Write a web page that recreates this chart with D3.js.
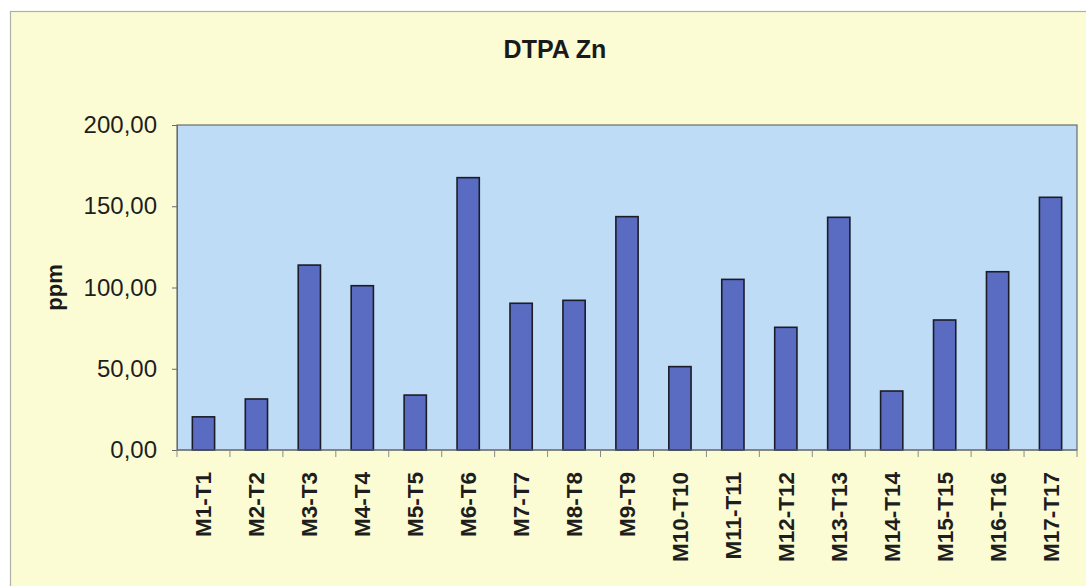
<!DOCTYPE html>
<html>
<head>
<meta charset="utf-8">
<script src="https://cdn.jsdelivr.net/npm/d3@7"></script>
<style>
  html, body { margin: 0; padding: 0; background: #ffffff; }
  svg { display: block; }
  text { font-family: "Liberation Sans", Arial, sans-serif; }
</style>
</head>
<body>
<svg id="chart" width="1086" height="586"></svg>
<script>
const categories = ["M1-T1","M2-T2","M3-T3","M4-T4","M5-T5","M6-T6","M7-T7","M8-T8","M9-T9","M10-T10","M11-T11","M12-T12","M13-T13","M14-T14","M15-T15","M16-T16","M17-T17"];
const values = [20.4, 31.4, 113.8, 101.1, 33.8, 167.6, 90.3, 92.1, 143.6, 51.3, 105.0, 75.5, 143.2, 36.3, 80.0, 109.7, 155.5];
const yTicks = [0, 50, 100, 150, 200];
const title = "DTPA Zn";
const yLabel = "ppm";

const svg = d3.select("#chart");
const W = 1086, H = 586;
const m = { left: 177, right: 1077, top: 125, bottom: 450 };

// chart area background & frame
svg.append("rect").attr("x", 10.5).attr("y", 11.5).attr("width", W).attr("height", H)
  .attr("fill", "#fcfcd4").attr("stroke", "#b0b0a8").attr("stroke-width", 1.2);

const x = d3.scaleBand().domain(categories).range([m.left, m.right]).paddingInner(0.58).paddingOuter(0.29);
const xTick = d3.scaleBand().domain(categories).range([m.left, m.right]);
const y = d3.scaleLinear().domain([0, 200]).range([m.bottom, m.top]);

// plot area
svg.append("rect").attr("x", m.left).attr("y", m.top)
  .attr("width", m.right - m.left).attr("height", m.bottom - m.top)
  .attr("fill", "#bfdcf6").attr("stroke", "#6a6a70").attr("stroke-width", 1.2);

// bars
svg.append("g").selectAll("rect").data(values).join("rect")
  .attr("x", (d, i) => x(categories[i]))
  .attr("y", d => y(d))
  .attr("width", x.bandwidth())
  .attr("height", d => y(0) - y(d))
  .attr("fill", "#5a6cc2")
  .attr("stroke", "#1c1c28")
  .attr("stroke-width", 1.6);

// y axis
const fmt = v => d3.format(".2f")(v).replace(".", ",");
const yAxis = d3.axisLeft(y).tickValues(yTicks).tickFormat(fmt).tickSize(5).tickPadding(15);
const gy = svg.append("g").attr("transform", `translate(${m.left},0)`).call(yAxis);
gy.select(".domain").attr("stroke", "#6a6a70");
gy.selectAll(".tick line").attr("stroke", "#6a6a70");
gy.selectAll("text").attr("font-size", 24).attr("fill", "#1e1e1e")
  .attr("font-family", "'Liberation Sans', Arial, sans-serif");

// x axis
const gx = svg.append("g").attr("transform", `translate(0,${m.bottom})`);
gx.append("line").attr("x1", m.left).attr("x2", m.right).attr("y1", 0).attr("y2", 0).attr("stroke", "#6a6a70");
const tickPos = categories.map(c => xTick(c)).concat([m.right]);
gx.selectAll("line.tk").data(tickPos).join("line").attr("class", "tk")
  .attr("x1", d => d).attr("x2", d => d).attr("y1", 0).attr("y2", 7).attr("stroke", "#8a8a8a");
gx.selectAll("text").data(categories).join("text")
  .attr("transform", d => `translate(${x(d) + x.bandwidth() / 2 + 8},22) rotate(-90)`)
  .attr("text-anchor", "end")
  .attr("font-size", 22.5)
  .attr("font-weight", "bold")
  .attr("fill", "#1e1e1e")
  .text(d => d);

// title
svg.append("text").attr("x", 555).attr("y", 58).attr("text-anchor", "middle")
  .attr("font-size", 25).attr("font-weight", "bold").attr("fill", "#1a1a1a").text(title);

// y label
svg.append("text").attr("transform", `translate(62,${(m.top + m.bottom) / 2}) rotate(-90)`)
  .attr("text-anchor", "middle").attr("font-size", 22).attr("font-weight", "bold")
  .attr("fill", "#1a1a1a").text(yLabel);
</script>
</body>
</html>
